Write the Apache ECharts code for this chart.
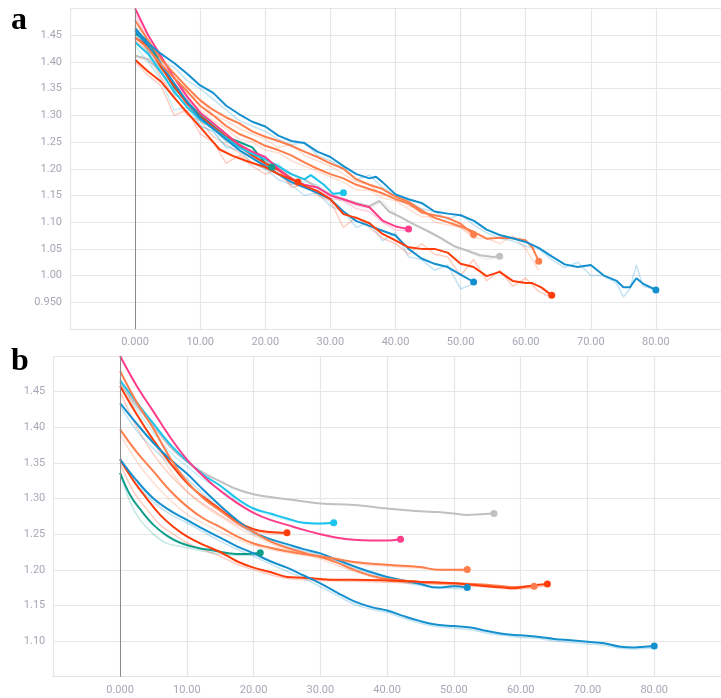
<!DOCTYPE html>
<html><head><meta charset="utf-8">
<script src="https://cdn.jsdelivr.net/npm/echarts@6/dist/echarts.min.js"></script>
<style>html,body{margin:0;padding:0;background:#fff}#c{width:721px;height:698px}</style>
</head><body><div id="c"></div>
<script>
// ---------- Panel a (raw-ish, little smoothing) ----------
const a_blue80 = [[0,1.463],[2,1.435],[4,1.415],[6,1.398],[8,1.378],[10,1.356],[12,1.342],[14,1.318],[16,1.302],[18,1.288],[20,1.279],[22,1.262],[24,1.252],[26,1.248],[28,1.232],[30,1.222],[32,1.205],[34,1.19],[36,1.182],[37,1.185],[38,1.175],[40,1.152],[42,1.143],[44,1.136],[46,1.12],[48,1.116],[50,1.113],[52,1.103],[54,1.086],[56,1.076],[58,1.07],[60,1.063],[62,1.052],[64,1.036],[66,1.021],[68,1.016],[70,1.02],[72,1.0],[74,0.99],[75,0.978],[76,0.978],[77,0.995],[78,0.985],[80,0.973]];
const a_red64 = [[0,1.404],[2,1.382],[4,1.363],[6,1.333],[8,1.305],[10,1.278],[12,1.25],[13,1.236],[15,1.224],[17,1.215],[20,1.203],[22,1.19],[24,1.18],[26,1.168],[28,1.158],[30,1.143],[32,1.115],[34,1.108],[36,1.098],[38,1.078],[40,1.066],[42,1.053],[44,1.05],[46,1.05],[48,1.043],[50,1.022],[52,1.016],[54,0.999],[56,1.007],[58,0.99],[60,0.986],[61,0.986],[62.4,0.978],[64,0.963]];
const a_orange62 = [[0,1.478],[2,1.44],[4,1.405],[6,1.378],[8,1.352],[10,1.328],[12,1.31],[14,1.296],[16,1.285],[18,1.27],[20,1.26],[22,1.252],[24,1.243],[26,1.232],[28,1.222],[30,1.21],[32,1.2],[34,1.18],[36,1.17],[38,1.162],[40,1.148],[42,1.138],[44,1.122],[46,1.108],[48,1.1],[50,1.092],[52,1.082],[54,1.069],[56,1.071],[58,1.07],[60,1.066],[61,1.053],[62,1.027]];
const a_gray56 = [[0,1.412],[2,1.405],[4,1.38],[6,1.355],[8,1.325],[10,1.3],[12,1.28],[14,1.26],[16,1.245],[18,1.23],[20,1.215],[22,1.2],[24,1.19],[26,1.18],[28,1.165],[30,1.152],[32,1.143],[34,1.136],[36,1.13],[37.5,1.14],[39,1.12],[41,1.108],[43,1.095],[45,1.083],[47,1.07],[49,1.055],[51,1.047],[53,1.038],[55,1.035],[56,1.036]];
const a_blue52 = [[0,1.458],[2,1.43],[4,1.395],[6,1.36],[8,1.325],[10,1.295],[12,1.275],[14,1.255],[16,1.235],[18,1.22],[20,1.205],[22,1.19],[24,1.175],[26,1.165],[28,1.155],[30,1.143],[32,1.12],[34,1.102],[36,1.093],[38,1.084],[40,1.075],[42,1.05],[44,1.032],[46,1.022],[48,1.016],[50,1.002],[52,0.988]];
const a_orange52 = [[0,1.446],[2,1.425],[4,1.395],[6,1.37],[8,1.345],[10,1.318],[12,1.3],[14,1.28],[16,1.265],[18,1.255],[20,1.243],[22,1.235],[24,1.225],[26,1.212],[28,1.2],[30,1.19],[32,1.182],[34,1.17],[36,1.162],[38,1.154],[40,1.143],[42,1.135],[44,1.118],[46,1.113],[48,1.108],[50,1.097],[52,1.077]];
const a_pink42 = [[0,1.5],[2,1.45],[4,1.41],[6,1.37],[8,1.335],[10,1.305],[12,1.285],[14,1.265],[16,1.245],[18,1.232],[20,1.222],[22,1.2],[24,1.18],[26,1.17],[28,1.165],[30,1.15],[32,1.143],[34,1.134],[36,1.128],[38,1.103],[40,1.092],[42,1.087]];
const a_cyan32 = [[0,1.437],[2,1.415],[4,1.38],[6,1.345],[8,1.315],[10,1.292],[12,1.275],[14,1.258],[16,1.24],[18,1.228],[20,1.218],[22,1.205],[24,1.19],[26,1.18],[27,1.188],[29,1.17],[30.4,1.153],[32,1.155]];
const a_red25 = [[0,1.445],[2,1.43],[4,1.39],[6,1.355],[8,1.322],[10,1.298],[12,1.278],[14,1.26],[16,1.243],[18,1.225],[20,1.21],[22,1.198],[24,1.182],[25,1.175]];
const a_teal21 = [[0,1.453],[2,1.44],[4,1.395],[6,1.352],[8,1.325],[10,1.3],[12,1.28],[14,1.26],[16,1.25],[18,1.24],[19,1.225],[20,1.21],[21,1.203]];

const a_blue80_raw = [[0,1.46],[2,1.42],[4,1.4],[6,1.39],[8,1.365],[10,1.35],[12,1.33],[14,1.31],[16,1.29],[18,1.28],[20,1.27],[22,1.255],[24,1.245],[26,1.25],[28,1.225],[30,1.215],[32,1.2],[34,1.18],[36,1.188],[38,1.165],[40,1.15],[42,1.14],[44,1.125],[46,1.12],[48,1.105],[50,1.115],[52,1.095],[54,1.08],[56,1.07],[58,1.065],[60,1.055],[62,1.05],[64,1.03],[66,1.015],[68,1.025],[70,1.0],[72,1.0],[74,0.985],[75,0.96],[76,0.975],[77,1.02],[78,0.98],[80,0.975]];
const a_red64_raw = [[0,1.4],[2,1.375],[4,1.355],[6,1.3],[8,1.31],[10,1.265],[12,1.25],[14,1.21],[16,1.225],[18,1.205],[20,1.19],[22,1.2],[24,1.165],[26,1.17],[28,1.15],[30,1.14],[32,1.09],[34,1.11],[36,1.09],[38,1.07],[40,1.06],[42,1.04],[44,1.06],[46,1.04],[48,1.035],[50,1.0],[52,1.03],[54,0.99],[56,1.01],[58,0.98],[60,0.995],[62,0.97],[64,0.96]];
const a_blue52_raw = [[0,1.455],[2,1.42],[4,1.385],[6,1.34],[8,1.33],[10,1.28],[12,1.27],[14,1.24],[16,1.235],[18,1.21],[20,1.2],[22,1.18],[24,1.17],[26,1.15],[28,1.155],[30,1.13],[32,1.12],[34,1.09],[36,1.1],[38,1.065],[40,1.08],[42,1.035],[44,1.03],[46,1.01],[48,1.02],[50,0.975],[52,0.985]];
const a_orange62_raw = [[0,1.47],[2,1.43],[4,1.41],[6,1.37],[8,1.34],[10,1.33],[12,1.3],[14,1.29],[16,1.275],[18,1.265],[20,1.255],[22,1.24],[24,1.245],[26,1.225],[28,1.215],[30,1.205],[32,1.19],[34,1.175],[36,1.17],[38,1.15],[40,1.15],[42,1.13],[44,1.125],[46,1.1],[48,1.095],[50,1.09],[52,1.07],[54,1.07],[56,1.06],[58,1.075],[60,1.05],[62,1.01]];
const a_cyan32_raw = [[0,1.43],[2,1.4],[4,1.365],[6,1.31],[8,1.315],[10,1.28],[12,1.27],[14,1.24],[16,1.245],[18,1.22],[20,1.2],[22,1.21],[24,1.18],[26,1.175],[28,1.17],[30,1.15],[32,1.155]];
const a_red25_raw = [[0,1.44],[2,1.42],[4,1.37],[6,1.335],[8,1.3],[10,1.29],[12,1.26],[14,1.245],[16,1.23],[18,1.21],[20,1.2],[22,1.19],[24,1.17],[25,1.175]];
const a_orange52_raw = [[0,1.44],[2,1.415],[4,1.39],[6,1.36],[8,1.335],[10,1.31],[12,1.29],[14,1.275],[16,1.255],[18,1.25],[20,1.235],[22,1.23],[24,1.215],[26,1.205],[28,1.195],[30,1.185],[32,1.175],[34,1.16],[36,1.16],[38,1.145],[40,1.14],[42,1.125],[44,1.11],[46,1.11],[48,1.1],[50,1.09],[52,1.075]];
const a_gray56_raw = [[0,1.41],[2,1.4],[4,1.37],[6,1.345],[8,1.32],[10,1.29],[12,1.275],[14,1.25],[16,1.24],[18,1.225],[20,1.205],[22,1.195],[24,1.185],[26,1.17],[28,1.16],[30,1.145],[32,1.14],[34,1.13],[36,1.125],[38,1.14],[40,1.115],[42,1.1],[44,1.09],[46,1.075],[48,1.06],[50,1.05],[52,1.04],[54,1.03],[56,1.035]];
const a_pink42_raw = [[0,1.49],[2,1.44],[4,1.405],[6,1.36],[8,1.33],[10,1.3],[12,1.275],[14,1.26],[16,1.24],[18,1.225],[20,1.21],[22,1.195],[24,1.175],[26,1.165],[28,1.16],[30,1.145],[32,1.14],[34,1.125],[36,1.12],[38,1.1],[40,1.085],[42,1.085]];
const a_teal21_raw = [[0,1.45],[2,1.43],[4,1.385],[6,1.34],[8,1.32],[10,1.29],[12,1.275],[14,1.25],[16,1.245],[18,1.23],[20,1.205],[21,1.2]];

// ---------- Panel b (heavily smoothed) ----------
const b_blue80 = [[0,1.355],[2.5,1.325],[5,1.3],[7.5,1.283],[10,1.27],[12.5,1.257],[15,1.245],[17.5,1.233],[20,1.223],[22.5,1.212],[25,1.203],[27.5,1.192],[30,1.181],[32.5,1.168],[35,1.156],[37.5,1.148],[40,1.143],[42.5,1.135],[45,1.128],[47.5,1.123],[50,1.121],[52.5,1.119],[55,1.114],[57.5,1.11],[60,1.108],[62.5,1.106],[65,1.103],[67.5,1.101],[70,1.099],[72.5,1.097],[75,1.092],[77,1.091],[78.5,1.092],[80,1.093]];
const b_red64 = [[0,1.355],[2,1.325],[4,1.3],[6,1.277],[8,1.26],[10,1.247],[12.5,1.235],[15,1.225],[17.5,1.212],[20,1.203],[22.5,1.197],[25,1.19],[27.5,1.189],[30,1.187],[32.5,1.186],[35,1.186],[40,1.185],[45,1.183],[50,1.181],[55,1.177],[57.5,1.175],[59,1.174],[61,1.177],[64,1.18]];
const b_orange62 = [[0,1.479],[2.5,1.435],[5,1.398],[7.5,1.357],[10,1.324],[12.5,1.3],[15,1.283],[17.5,1.266],[20,1.253],[22.5,1.24],[25,1.231],[27.5,1.224],[30,1.218],[32.5,1.21],[35,1.2],[37.5,1.192],[40,1.187],[45,1.183],[50,1.181],[55,1.179],[58.6,1.176],[62,1.177]];
const b_gray56 = [[0,1.463],[2.5,1.43],[5,1.402],[7.5,1.373],[10,1.352],[12.5,1.336],[15,1.324],[17.5,1.313],[20,1.306],[22.5,1.302],[25,1.299],[27.5,1.296],[30,1.293],[35,1.291],[40,1.286],[42.5,1.284],[45,1.282],[47.5,1.281],[50,1.279],[52,1.277],[54,1.278],[56,1.279]];
const b_blue52 = [[0,1.434],[2.5,1.405],[5,1.378],[7.5,1.355],[10,1.335],[12.5,1.312],[15,1.29],[17.5,1.27],[20,1.253],[22.5,1.243],[25,1.236],[27.5,1.229],[30,1.223],[32.5,1.214],[35,1.205],[37.5,1.197],[40,1.19],[42.5,1.185],[45,1.18],[47.5,1.175],[50,1.177],[52,1.175]];
const b_orange52 = [[0,1.397],[2.5,1.365],[5,1.338],[7.5,1.311],[10,1.289],[12.5,1.272],[15,1.26],[17.5,1.247],[20,1.237],[22.5,1.231],[25,1.226],[27.5,1.222],[30,1.219],[32.5,1.215],[35,1.211],[40,1.207],[45,1.204],[47.5,1.2],[50,1.2],[52,1.2005]];
const b_pink42 = [[0,1.5],[2.5,1.458],[5,1.422],[7.5,1.386],[10,1.355],[12.5,1.331],[15,1.311],[17.5,1.294],[20,1.28],[22.5,1.27],[25,1.263],[27.5,1.256],[30,1.25],[32.5,1.245],[35,1.242],[37.5,1.241],[40,1.241],[42,1.243]];
const b_cyan32 = [[0,1.466],[2.5,1.435],[5,1.405],[7.5,1.376],[10,1.353],[12.5,1.333],[15,1.318],[17.5,1.3],[20,1.286],[22.5,1.279],[25,1.272],[27.5,1.266],[30,1.265],[32,1.266]];
const b_red25 = [[0,1.458],[2.5,1.418],[5,1.382],[7.5,1.35],[10,1.322],[12.5,1.302],[15,1.285],[17.5,1.268],[20,1.257],[22.5,1.253],[25,1.252]];
const b_teal21 = [[0,1.336],[1.5,1.305],[3,1.285],[5,1.263],[7,1.248],[9,1.238],[11.5,1.231],[14,1.227],[16.5,1.223],[18.5,1.222],[21,1.224]];

const b_blue80_f = [[0,1.353],[2.5,1.32],[5,1.295],[7.5,1.278],[10,1.266],[12.5,1.253],[15,1.24],[17.5,1.229],[20,1.219],[22.5,1.208],[25,1.198],[27.5,1.188],[30,1.176],[32.5,1.164],[35,1.152],[37.5,1.145],[40,1.14],[42.5,1.132],[45,1.125],[47.5,1.12],[50,1.118],[52.5,1.116],[55,1.111],[57.5,1.108],[60,1.105],[62.5,1.104],[65,1.1],[67.5,1.098],[70,1.096],[72.5,1.094],[75,1.09],[77,1.089],[80,1.091]];
const b_teal21_f = [[0,1.336],[1.5,1.295],[3,1.27],[5,1.25],[7,1.237],[9,1.233],[12,1.227],[15,1.222],[18,1.22],[21,1.221]];
const b_cyan32_f = [[0,1.462],[2.5,1.425],[5,1.392],[7.5,1.365],[10,1.345],[12.5,1.327],[15,1.312],[17.5,1.297],[20,1.285],[22.5,1.277],[25,1.27],[27.5,1.265],[30,1.264],[32,1.265]];
const b_orange62_f = [[0,1.47],[2.5,1.42],[5,1.38],[7.5,1.34],[10,1.31],[12.5,1.29],[15,1.275],[17.5,1.26],[20,1.248],[22.5,1.237],[25,1.228],[27.5,1.222],[30,1.215],[35,1.198],[40,1.185],[45,1.181],[50,1.179],[55,1.177],[62,1.175]];
const b_orange52_f = [[0,1.39],[2.5,1.352],[5,1.322],[7.5,1.298],[10,1.278],[12.5,1.265],[15,1.253],[17.5,1.243],[20,1.234],[25,1.224],[30,1.217],[35,1.209],[40,1.205],[45,1.202],[52,1.198]];
const b_red25_f = [[0,1.45],[2.5,1.4],[5,1.362],[7.5,1.333],[10,1.31],[12.5,1.292],[15,1.277],[17.5,1.263],[20,1.254],[22.5,1.251],[25,1.25]];
const b_red64_f = [[0,1.35],[2,1.31],[4,1.285],[6,1.263],[8,1.25],[10,1.238],[12.5,1.228],[15,1.219],[17.5,1.208],[20,1.2],[25,1.188],[30,1.185],[35,1.184],[45,1.181],[55,1.176],[59,1.173],[64,1.178]];
const b_blue52_f = [[0,1.43],[2.5,1.395],[5,1.37],[7.5,1.348],[10,1.328],[12.5,1.306],[15,1.285],[17.5,1.266],[20,1.25],[25,1.233],[30,1.22],[35,1.202],[40,1.188],[45,1.178],[52,1.173]];

// tick formatting / axis ranges
const xTicks = {min: -10, max: 90, interval: 10};
const yTicksA = {min: 0.9, max: 1.5, interval: 0.05};
const yTicksB = {min: 1.05, max: 1.5, interval: 0.05};

const C = {
  blue: '#1590cf', red: '#ff3d0a', orange: '#ff7e4c', gray: '#c0c0c0',
  pink: '#ff3d8a', cyan: '#1cc3ec', teal: '#0f9e8c'
};

const runsA = [
  {d: a_gray56, r: a_gray56_raw, c: C.gray},
  {d: a_teal21, r: a_teal21_raw, c: C.teal},
  {d: a_red25, r: a_red25_raw, c: C.red},
  {d: a_cyan32, r: a_cyan32_raw, c: C.cyan},
  {d: a_pink42, r: a_pink42_raw, c: C.pink},
  {d: a_blue52, r: a_blue52_raw, c: C.blue},
  {d: a_orange52, r: a_orange52_raw, c: C.orange},
  {d: a_orange62, r: a_orange62_raw, c: C.orange},
  {d: a_red64, r: a_red64_raw, c: C.red},
  {d: a_blue80, r: a_blue80_raw, c: C.blue}
];
const runsB = [
  {d: b_gray56, r: null, c: C.gray},
  {d: b_teal21, r: b_teal21_f, c: C.teal},
  {d: b_red25, r: b_red25_f, c: C.red},
  {d: b_cyan32, r: b_cyan32_f, c: C.cyan},
  {d: b_pink42, r: null, c: C.pink},
  {d: b_blue52, r: b_blue52_f, c: C.blue},
  {d: b_orange52, r: b_orange52_f, c: C.orange},
  {d: b_orange62, r: b_orange62_f, c: C.orange},
  {d: b_red64, r: b_red64_f, c: C.red},
  {d: b_blue80, r: b_blue80_f, c: C.blue}
];

function withEndDot(arr) {
  return arr.map((p, i) => i === arr.length - 1 ? {value: p, symbol: 'circle', symbolSize: 7} : p);
}
const zeroLine = {
  silent: true, symbol: 'none', animation: false, label: {show: false},
  lineStyle: {color: '#8a8a8a', width: 1, type: 'solid'}, data: [{xAxis: 0}]
};
function buildSeries(runs, gi, smooth) {
  const out = [];
  const sm = smooth ? 0.4 : false;
  runs.forEach(run => {
    if (run.r) out.push({
      type: 'line', xAxisIndex: gi, yAxisIndex: gi, data: run.r, symbol: 'none', smooth: sm,
      lineStyle: {color: run.c, width: 1.5, opacity: 0.25}, silent: true, z: 2
    });
  });
  runs.forEach((run, k) => {
    const s = {
      type: 'line', xAxisIndex: gi, yAxisIndex: gi, data: withEndDot(run.d), symbol: 'none', showSymbol: true,
      smooth: sm, lineStyle: {color: run.c, width: 2}, itemStyle: {color: run.c},
      silent: true, z: 3
    };
    if (k === 0) s.markLine = zeroLine;
    out.push(s);
  });
  return out;
}

const labelStyle = {color: '#a6a8b6', fontFamily: 'Roboto', fontSize: 11};
function xAxis(gi) {
  return Object.assign({
    type: 'value', gridIndex: gi,
    axisLine: {show: true, lineStyle: {color: '#e2e2e2', width: 1.2}},
    axisTick: {show: false},
    splitLine: {show: true, lineStyle: {color: '#e6e6e6', width: 1.2}},
    axisLabel: Object.assign({margin: 8, showMinLabel: false, showMaxLabel: false,
      formatter: v => v.toPrecision(4)}, labelStyle)
  }, xTicks);
}
function yAxis(gi, t) {
  return Object.assign({
    type: 'value', gridIndex: gi,
    axisLine: {show: false}, axisTick: {show: false},
    splitLine: {show: true, lineStyle: {color: '#e6e6e6', width: 1.2}},
    axisLabel: Object.assign({margin: 8, showMinLabel: false, showMaxLabel: false,
      formatter: v => v.toPrecision(3)}, labelStyle)
  }, t);
}

const chart = echarts.init(document.getElementById('c'), null, {renderer: 'canvas'});
chart.setOption({
  animation: false,
  backgroundColor: '#fff',
  grid: [
    {left: 70, right: -2, top: 8.5, height: 320.5},
    {left: 53.3, right: -7.3, top: 356, height: 320.7}
  ],
  xAxis: [xAxis(0), xAxis(1)],
  yAxis: [yAxis(0, yTicksA), yAxis(1, yTicksB)],
  graphic: [
    {type: 'text', left: 11, top: 5, style: {text: 'a', font: 'bold 32px "Liberation Serif"', fill: '#000'}},
    {type: 'text', left: 11, top: 346, style: {text: 'b', font: 'bold 32px "Liberation Serif"', fill: '#000'}}
  ],
  series: buildSeries(runsA, 0, false).concat(buildSeries(runsB, 1, true))
});
</script></body></html>
